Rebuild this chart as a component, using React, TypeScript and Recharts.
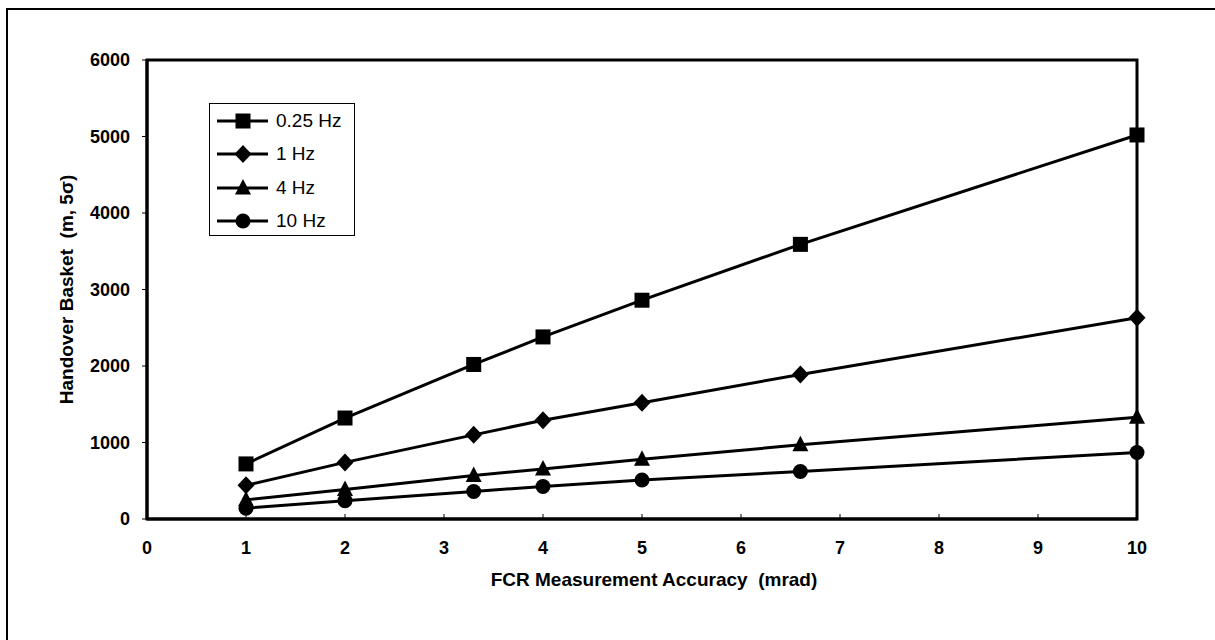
import React from 'react'
import { Legend, Line, LineChart, ReferenceArea, XAxis, YAxis } from 'recharts'

const accuracy = [1, 2, 3.3, 4, 5, 6.6, 10]
const hz025 = [720, 1320, 2020, 2380, 2860, 3590, 5020]
const hz1 = [440, 740, 1100, 1290, 1520, 1890, 2630]
const hz4 = [250, 385, 570, 655, 780, 970, 1330]
const hz10 = [142, 240, 360, 425, 510, 620, 870]
const xTicks = [0, 1, 2, 3, 4, 5, 6, 7, 8, 9, 10]
const yTicks = [0, 1000, 2000, 3000, 4000, 5000, 6000]
const seriesNames = ['0.25 Hz', '1 Hz', '4 Hz', '10 Hz']

const data = accuracy.map((x, i) => ({
    x,
    a: hz025[i],
    b: hz1[i],
    c: hz4[i],
    d: hz10[i],
}))

const FONT = 'Arial, "Liberation Sans", Helvetica, sans-serif'

type Mark = 'square' | 'diamond' | 'triangle' | 'circle'

const Marker = ({ cx, cy, kind }: { cx: number; cy: number; kind: Mark }) => {
    if (kind === 'square') return <rect x={cx - 7.5} y={cy - 7.5} width={15} height={15} fill='#000' />
    if (kind === 'diamond')
        return <polygon points={`${cx},${cy - 9} ${cx + 8.5},${cy} ${cx},${cy + 9} ${cx - 8.5},${cy}`} fill='#000' />
    if (kind === 'triangle')
        return <polygon points={`${cx},${cy - 9} ${cx + 8},${cy + 6.5} ${cx - 8},${cy + 6.5}`} fill='#000' />
    return <circle cx={cx} cy={cy} r={7.5} fill='#000' />
}

const marks: Mark[] = ['square', 'diamond', 'triangle', 'circle']
const keys = ['a', 'b', 'c', 'd']

const dotFor = (kind: Mark) => (props: any) => (
    <Marker key={`${kind}-${props.index}`} cx={props.cx} cy={props.cy} kind={kind} />
)

const XTick = (props: any) => {
    const { x, y, payload } = props
    return (
        <g>
            {payload.value > 0 && payload.value < 10 && (
                <line x1={x} x2={x} y1={y - 5} y2={y} stroke='#000' strokeWidth={1} />
            )}
            <text x={x} y={y + 29} textAnchor='middle' dominantBaseline='central' fontFamily={FONT} fontWeight='bold' fontSize={18} fill='#000'>
                {payload.value}
            </text>
        </g>
    )
}

const LegendBox = () => (
    <div style={{ border: '1px solid #000', width: 146, height: 133, boxSizing: 'border-box', background: '#fff' }}>
        {seriesNames.map((name, i) => (
            <div key={name} style={{ display: 'flex', alignItems: 'center', height: 33.5 }}>
                <svg width={66} height={20} style={{ display: 'block' }}>
                    <line x1={7} x2={58} y1={10} y2={10} stroke='#000' strokeWidth={3} />
                    <Marker cx={33} cy={10} kind={marks[i]} />
                </svg>
                <span style={{ fontFamily: FONT, fontSize: 19, color: '#000', lineHeight: '20px' }}>{name}</span>
            </div>
        ))}
    </div>
)

const YLabel = (props: any) => {
    const vb = props.viewBox
    const cx = vb.x - 21
    const cy = vb.y + vb.height / 2
    return (
        <text x={cx} y={cy} transform={`rotate(-90, ${cx}, ${cy})`} textAnchor='middle' dominantBaseline='central' fontFamily={FONT} fontWeight='bold' fontSize={19} fill='#000'>
            {'Handover Basket\u00a0\u00a0(m, 5σ)'}
        </text>
    )
}

const App: React.FC = () => {
    return (
        <div style={{ position: 'fixed', left: 0, top: 0, width: 1215, height: 640, overflow: 'hidden', background: '#fff' }}>
            <div style={{ position: 'absolute', left: 6, top: 8, width: 1300, height: 700, border: '2px solid #000' }} />
            <div style={{ position: 'absolute', left: 0, top: 0 }}>
                <LineChart width={1215} height={640} data={data} margin={{ top: 60, right: 78, bottom: 91, left: 87 }}>
                    <ReferenceArea x1={0} x2={10} y1={0} y2={6000} fill='none' stroke='#000' strokeWidth={3} ifOverflow='visible' />
                    <XAxis
                        dataKey='x'
                        type='number'
                        domain={[0, 10]}
                        ticks={xTicks}
                        interval={0}
                        tickSize={0}
                        tickMargin={0}
                        height={30}
                        axisLine={{ stroke: '#000', strokeWidth: 3 }}
                        tick={<XTick />}
                        label={{
                            value: 'FCR Measurement Accuracy\u00a0\u00a0(mrad)',
                            position: 'bottom',
                            offset: 24,
                            fill: '#000',
                            fontFamily: FONT,
                            fontWeight: 'bold',
                            fontSize: 19,
                            dx: 12,
                        }}
                    />
                    <YAxis
                        type='number'
                        domain={[0, 6000]}
                        ticks={yTicks}
                        interval={0}
                        width={60}
                        tickSize={5}
                        tickMargin={12}
                        axisLine={{ stroke: '#000', strokeWidth: 3 }}
                        tickLine={{ stroke: '#000', strokeWidth: 1 }}
                        tick={{ fill: '#000', fontFamily: FONT, fontWeight: 'bold', fontSize: 18 }}
                        label={<YLabel />}
                    />
                    <Legend
                        layout='vertical'
                        align='center'
                        verticalAlign='middle'
                        content={<LegendBox />}
                        wrapperStyle={{ left: 209, top: 103, width: 146, height: 133 }}
                    />
                    {keys.map((k, i) => (
                        <Line
                            key={k}
                            type='linear'
                            dataKey={k}
                            name={seriesNames[i]}
                            stroke='#000'
                            strokeWidth={3}
                            dot={dotFor(marks[i])}
                            activeDot={false}
                            isAnimationActive={false}
                        />
                    ))}
                </LineChart>
            </div>
        </div>
    )
}

export default App
